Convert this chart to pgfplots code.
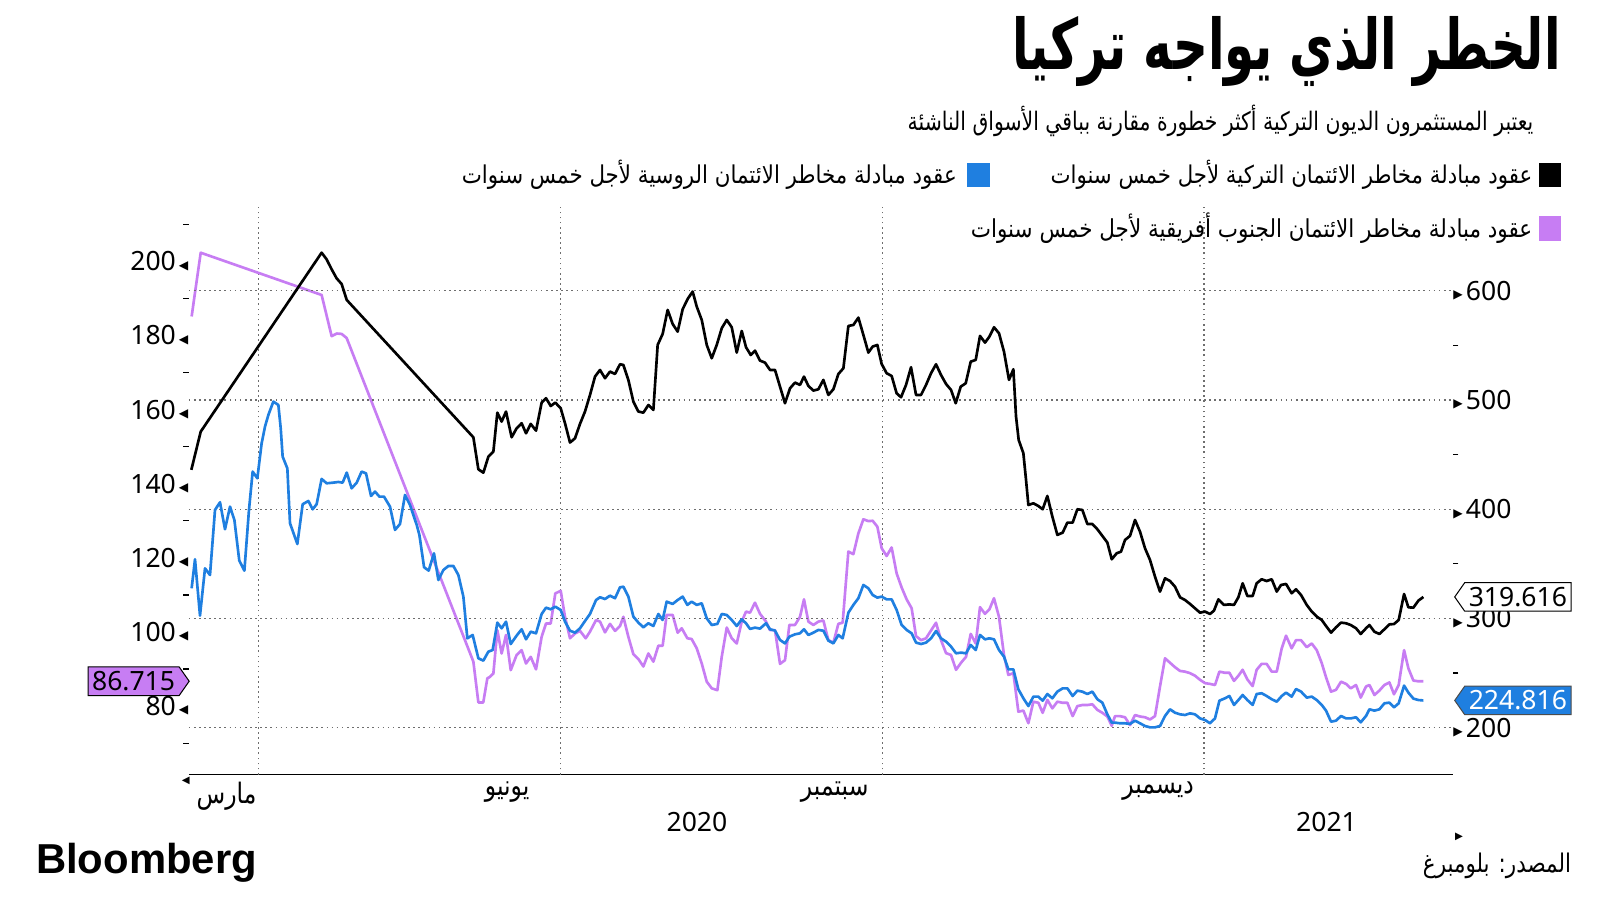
\documentclass[border=0pt]{standalone}
\usepackage{pgfplots}
\usepackage{pgfplotstable}
\pgfplotsset{compat=1.18}
\usepackage{fontspec}
\usepackage{graphicx}
\usetikzlibrary{shapes.symbols}
\TeXXeTstate=1
\setmainfont{Noto Sans}
\newfontfamily\arabicfont[Script=Arabic]{DejaVu Sans}
\newfontfamily\symfont{DejaVu Sans}
\newfontfamily\logofont{Liberation Sans}
\definecolor{cblue}{HTML}{1F7FE0}
\definecolor{cpurple}{HTML}{C77DF3}
\definecolor{cgrid}{HTML}{6E6E6E}
\newcommand{\ar}[1]{{\arabicfont\beginR #1\endR}}
\newcommand{\art}[1]{\scalebox{1}[1.2]{\ar{#1}}}

% South Africa (left axis)
\pgfplotstableread{
x y
187.8 185.1
196.7 202.3
315.2 190.9
325.0 179.8
330.0 180.5
334.8 180.4
339.7 179.3
463.9 92.0
468.8 81.0
473.6 81.0
477.6 87.5
480.2 87.9
483.5 88.8
487.4 100.5
491.6 94.2
495.9 99.2
500.5 89.7
506.3 93.8
511.2 95.1
515.5 91.5
520.1 93.3
525.3 89.9
530.8 98.7
535.1 102.3
539.7 102.3
544.2 110.4
549.5 111.1
553.7 104.1
558.6 98.3
563.5 99.6
568.4 100.3
574.0 98.3
578.2 100.1
584.1 103.2
588.0 102.8
592.9 99.9
597.8 102.2
602.7 100.3
607.6 101.6
610.9 104.1
615.8 98.7
620.7 94.0
625.6 92.7
630.5 90.7
635.4 94.2
640.3 92.0
645.2 96.3
649.4 96.3
653.3 104.6
659.2 104.6
664.1 99.8
668.1 101.0
673.6 98.3
677.8 98.1
682.8 95.6
687.7 91.5
692.6 86.6
697.5 84.8
703.0 84.3
707.3 93.3
712.2 101.2
717.1 98.3
722.0 96.9
726.9 102.8
731.1 105.5
735.0 105.2
739.9 107.9
744.8 104.9
750.7 102.8
754.6 100.5
759.5 100.5
764.4 91.4
769.3 92.4
773.6 101.9
779.1 101.9
784.0 104.1
787.9 108.8
792.2 102.8
797.1 101.9
802.0 102.8
806.9 103.1
811.8 97.8
816.7 97.1
821.6 102.2
825.8 102.5
831.4 121.7
836.3 121.0
841.2 126.6
846.1 130.4
851.0 129.9
855.2 130.0
859.8 128.4
864.0 122.6
868.9 120.5
873.8 122.8
878.7 115.8
883.6 112.0
888.5 108.8
893.4 106.4
897.7 98.9
902.6 97.8
907.5 98.3
912.4 100.4
917.3 102.5
922.2 97.8
927.1 94.3
932.0 93.8
936.9 89.8
941.8 91.7
946.7 93.3
951.3 99.5
956.2 96.9
960.4 106.7
965.3 104.9
969.6 106.1
974.1 109.1
979.0 104.1
983.9 93.8
988.2 88.4
993.1 88.9
998.0 78.5
1002.9 78.8
1007.8 75.4
1012.7 81.2
1017.6 80.9
1021.8 78.2
1026.4 81.7
1031.3 79.4
1036.2 81.2
1041.4 80.9
1046.0 80.9
1051.2 77.3
1055.8 80.0
1060.7 80.3
1065.6 80.3
1070.5 80.5
1075.4 79.0
1080.3 78.2
1085.2 77.2
1089.5 74.7
1092.7 77.3
1097.6 77.3
1102.5 77.0
1107.4 74.9
1112.3 77.6
1117.2 77.2
1122.1 77.0
1127.0 76.4
1131.9 77.3
1136.8 85.3
1141.7 92.9
1146.6 91.7
1151.5 90.5
1156.4 89.5
1161.3 89.3
1166.2 88.9
1171.1 88.2
1176.0 87.1
1180.9 86.2
1185.8 86.0
1190.7 85.7
1195.0 89.3
1200.5 89.0
1204.8 89.0
1209.3 86.8
1213.6 88.2
1217.8 89.8
1222.4 87.2
1227.6 85.4
1231.5 89.8
1236.4 91.4
1241.3 91.4
1246.3 89.3
1251.2 89.3
1256.1 95.6
1260.3 99.0
1265.8 95.6
1270.1 97.8
1275.0 97.8
1280.6 95.9
1285.5 96.9
1290.4 95.1
1295.3 91.6
1299.5 87.8
1304.4 83.9
1309.3 84.4
1314.2 86.6
1319.1 86.0
1323.7 84.8
1328.9 85.7
1333.5 82.3
1338.7 85.3
1342.0 85.7
1346.9 83.0
1351.8 84.2
1356.7 85.7
1361.6 86.4
1366.1 83.2
1370.7 85.7
1376.0 95.1
1380.2 90.2
1385.1 86.9
1390.0 86.7
1394.9 86.715
}\purpletab

% Russia (right axis)
\pgfplotstableread{
x y
187.8 327.5
191.1 354.1
196.0 302.5
200.9 345.8
205.8 339.7
210.7 399.3
215.6 406.3
220.5 381.6
225.4 402.3
229.7 390.1
234.5 352.9
239.5 343.7
244.0 399.3
247.6 434.4
252.2 428.3
256.4 460.3
259.7 475.6
263.0 486.3
267.9 498.5
272.8 495.4
275.1 474.1
277.0 448.1
281.6 437.4
284.2 387.1
291.4 368.1
296.6 404.5
302.2 407.5
306.4 399.9
310.3 404.5
315.2 427.7
320.1 423.7
326.7 424.3
331.6 424.9
335.8 424.3
339.8 433.5
344.6 419.1
349.6 424.3
354.4 434.4
358.7 432.8
363.6 412.1
367.5 416.1
371.8 411.5
376.3 411.5
382.2 402.3
387.1 381.0
392.0 386.4
396.9 413.0
401.8 403.8
408.4 385.5
411.0 376.4
415.6 346.8
420.1 343.7
425.3 359.6
429.6 335.1
434.5 344.3
439.4 348.0
444.3 348.0
449.2 339.7
454.1 319.9
458.0 281.7
463.2 284.8
468.8 263.4
473.7 261.3
478.6 269.5
482.8 271.0
487.4 296.1
491.6 290.9
495.9 297.0
500.5 276.5
506.3 284.2
511.2 290.0
515.5 280.8
520.1 287.8
525.3 286.3
530.8 304.0
535.1 309.8
539.7 308.3
544.2 310.7
549.5 307.7
553.7 297.0
558.6 288.7
563.5 286.9
568.4 290.9
574.0 298.5
578.2 304.0
584.1 316.8
588.0 319.3
592.9 317.7
597.8 320.8
602.7 318.4
607.6 328.4
610.9 329.0
615.8 319.9
620.7 301.6
625.6 296.1
630.5 291.8
635.4 295.5
640.3 293.0
645.2 304.0
649.4 298.5
653.3 315.3
659.2 313.2
664.1 316.8
669.0 319.9
673.6 312.3
677.8 315.3
682.8 312.3
687.7 313.8
692.6 300.0
697.5 293.9
703.0 294.9
707.3 304.0
712.2 303.1
717.1 298.5
722.0 293.0
726.9 299.1
731.1 295.5
735.0 290.3
739.9 291.5
744.8 290.6
750.7 295.5
754.6 290.0
759.5 288.8
764.4 280.2
769.3 277.1
773.6 283.2
779.1 285.4
784.0 286.3
787.9 290.0
792.2 284.8
797.1 286.9
802.0 289.4
806.9 288.7
811.8 279.6
816.7 277.1
821.6 284.8
825.8 281.7
831.4 305.2
836.3 312.3
841.2 318.4
846.1 330.6
851.0 327.5
855.2 321.4
859.8 319.0
864.0 319.9
868.9 317.4
873.8 317.4
878.7 307.7
883.6 293.9
888.5 289.4
893.4 286.3
897.7 277.8
902.6 276.5
907.5 277.8
912.4 281.7
917.3 288.4
922.2 281.7
927.1 278.7
932.0 274.1
936.9 268.0
941.8 268.6
946.7 268.0
951.3 275.6
956.2 271.0
960.4 284.8
965.3 280.8
969.6 281.7
974.1 280.8
979.0 271.0
983.9 264.9
988.2 253.3
993.1 253.3
998.0 235.0
1002.9 226.8
1007.8 219.7
1012.7 228.3
1017.6 228.3
1021.8 224.6
1026.4 230.7
1031.3 226.8
1036.2 232.9
1041.4 235.9
1046.0 235.9
1051.2 228.9
1055.8 233.8
1060.7 232.9
1065.6 230.7
1070.5 232.9
1075.4 225.9
1080.3 222.8
1085.2 212.1
1089.5 204.5
1092.7 204.5
1097.6 203.9
1102.5 203.9
1107.4 203.3
1112.3 206.3
1117.2 203.9
1122.1 201.4
1127.0 200.2
1131.9 200.2
1136.8 201.4
1141.7 210.6
1146.6 216.7
1151.5 213.6
1156.4 212.1
1161.3 211.5
1166.2 213.0
1171.1 212.1
1176.0 208.4
1180.9 206.9
1185.8 203.9
1190.7 208.4
1195.0 224.6
1200.5 226.8
1204.8 228.9
1209.3 220.7
1213.6 225.2
1217.8 229.8
1222.4 225.2
1227.6 220.7
1231.5 230.7
1236.4 231.4
1241.3 228.9
1246.3 225.9
1251.2 223.7
1256.1 228.9
1260.3 232.0
1265.8 228.3
1270.1 235.3
1275.0 232.9
1280.6 227.4
1285.5 228.3
1290.4 225.2
1295.3 220.7
1299.5 215.5
1304.4 205.4
1309.3 206.3
1314.2 210.6
1319.1 208.4
1323.7 208.4
1328.9 209.4
1333.5 204.8
1338.7 210.6
1342.0 216.7
1346.9 215.5
1351.8 216.7
1356.7 222.2
1361.6 222.8
1366.1 218.5
1370.7 222.2
1376.0 238.4
1380.2 232.0
1385.1 226.5
1390.0 225.2
1394.9 224.816
}\bluetab

% Turkey (right axis)
\pgfplotstableread{
x y
187.5 436.0
196.7 471.0
315.2 634.9
320.1 628.8
325.0 619.7
329.9 611.4
334.8 606.2
339.8 591.6
463.9 465.8
468.8 436.5
473.7 433.4
478.6 448.1
483.5 452.7
487.4 488.4
491.6 480.2
495.9 489.4
501.4 465.8
506.3 474.1
511.2 478.7
515.5 469.5
520.1 478.1
525.3 471.9
530.8 497.6
535.1 501.6
539.7 494.5
544.2 497.6
549.5 492.4
553.7 478.7
558.6 461.0
563.5 464.9
568.4 478.1
573.3 489.4
578.2 504.6
583.1 521.4
588.0 527.5
592.9 519.9
597.8 526.0
602.7 523.8
607.6 532.7
610.9 532.1
615.8 518.3
620.7 498.5
625.6 489.4
630.5 488.4
635.4 495.4
640.3 490.9
644.5 550.4
649.4 560.5
654.3 582.5
659.2 569.6
664.1 562.6
669.0 583.1
673.9 592.5
678.8 599.3
682.8 585.5
687.7 573.3
692.6 550.4
697.5 538.2
702.4 550.4
707.3 565.7
712.2 573.3
717.1 566.6
722.0 543.4
726.9 563.2
731.1 548.3
735.7 541.2
739.9 545.2
744.8 536.1
749.7 534.2
754.6 527.5
759.5 527.5
764.4 512.2
769.3 497.0
774.2 510.7
779.1 515.9
784.0 513.8
787.9 521.4
792.2 512.9
797.1 508.6
802.0 509.8
806.9 518.4
811.8 504.6
816.7 509.8
821.6 523.8
826.5 529.0
831.4 567.8
836.3 568.7
841.2 575.4
846.1 559.6
851.0 543.4
855.2 548.9
859.8 550.4
864.0 533.0
868.9 524.5
873.8 522.0
878.7 506.1
883.0 502.5
887.9 513.8
892.8 530.0
897.7 504.6
902.6 504.6
907.5 513.8
912.4 524.5
917.3 532.7
922.2 522.9
927.1 514.7
932.0 509.2
936.6 497.0
941.5 512.2
946.4 515.3
951.3 535.1
956.2 536.7
960.4 558.7
965.3 552.5
969.6 558.0
974.1 566.6
979.0 561.1
983.9 544.3
988.8 518.4
993.1 528.1
995.7 484.8
998.3 463.4
1002.9 451.2
1005.5 426.8
1007.8 403.8
1012.7 405.4
1017.6 402.9
1021.8 399.9
1026.4 412.1
1031.3 393.2
1036.2 376.4
1041.4 378.5
1046.0 387.7
1051.2 387.7
1055.8 399.9
1060.7 399.3
1065.6 386.4
1070.5 386.4
1075.4 381.6
1080.3 375.5
1085.2 369.4
1089.5 354.1
1094.3 359.6
1098.6 361.1
1102.5 371.8
1107.4 375.5
1112.3 390.1
1117.2 379.4
1122.1 364.2
1127.0 353.5
1131.9 338.2
1136.8 324.5
1141.7 336.7
1146.6 334.2
1151.5 329.0
1156.4 319.3
1161.3 316.8
1166.2 313.2
1171.1 309.2
1176.0 305.2
1180.9 306.2
1185.8 304.0
1189.7 307.1
1194.0 317.4
1199.5 312.3
1204.8 312.8
1209.3 312.3
1213.6 319.3
1217.8 332.1
1222.4 320.5
1227.6 320.5
1231.5 332.1
1236.4 335.8
1241.3 334.2
1246.3 335.8
1251.2 324.5
1255.4 330.6
1260.3 331.5
1265.8 323.0
1270.1 326.6
1275.0 321.4
1280.6 312.3
1285.5 306.2
1290.4 301.6
1295.3 298.5
1299.5 293.0
1304.4 286.9
1309.3 291.8
1314.2 296.1
1319.1 295.5
1323.7 293.9
1328.9 290.9
1333.5 285.7
1338.7 290.9
1342.0 293.9
1346.9 287.8
1351.8 285.7
1356.7 290.0
1361.6 294.5
1366.1 294.8
1370.7 298.5
1376.0 322.3
1380.2 310.1
1385.1 309.8
1390.0 316.2
1394.9 319.616
}\blacktab

\pgfplotsset{
  common/.style={
    at={(92.5bp,-379.5bp)}, anchor=south west,
    scale only axis, width=619.5bp, height=278bp,
    xmin=185, xmax=1424,
    major tick length=0pt, minor tick length=2.6bp, tick align=outside,
    minor tick style={line width=0.6bp, black},
    major grid style={cgrid, line width=0.6bp, dash pattern=on 0.8bp off 1.7bp},
    /pgf/number format/assume math mode=true,
    /pgf/number format/1000 sep={},
    yticklabel style={font=\fontsize{13bp}{13bp}\selectfont, inner sep=0pt},
    clip=false,
  }
}

\begin{document}
\begin{tikzpicture}
\useasboundingbox (0,0) rectangle (784bp,-441bp);
\begin{scope}[x=0.5bp,y=-0.5bp]
  % title and subtitle
  \node[anchor=east, inner sep=0] at (1530,50) {\resizebox{268.5bp}{26bp}{\arabicfont\bfseries\beginR الخطر الذي يواجه تركيا\endR}};
  \node[anchor=east, inner sep=0] at (1503,118) {\scalebox{1}[1.25]{\resizebox{306.5bp}{!}{\ar{يعتبر المستثمرون الديون التركية أكثر خطورة مقارنة بباقي الأسواق الناشئة}}}};
  % legend
  \fill[black] (1508,160) rectangle (1530,183);
  \node[anchor=east, inner sep=0] at (1502,171) {\scalebox{1}[1.15]{\resizebox{236bp}{!}{\ar{عقود مبادلة مخاطر الائتمان التركية لأجل خمس سنوات}}}};
  \fill[cblue] (948,160) rectangle (970,183);
  \node[anchor=east, inner sep=0] at (938,171) {\scalebox{1}[1.15]{\resizebox{242.5bp}{!}{\ar{عقود مبادلة مخاطر الائتمان الروسية لأجل خمس سنوات}}}};
  \fill[cpurple] (1508,212) rectangle (1530,236);
  \node[anchor=east, inner sep=0] at (1502,224) {\scalebox{1}[1.15]{\resizebox{275bp}{!}{\ar{عقود مبادلة مخاطر الائتمان الجنوب أفريقية لأجل خمس سنوات}}}};
  % years
  \node[font=\fontsize{13bp}{13bp}\selectfont] at (683,806) {2020};
  \node[font=\fontsize{13bp}{13bp}\selectfont] at (1300,806) {2021};
  % footer
  \node[anchor=west, inner sep=0] at (35,846) {\logofont\bfseries\fontsize{20.5bp}{20.5bp}\selectfont Bloomberg};
  \node[anchor=east, inner sep=0] at (1540,849) {\fontsize{10.5bp}{12bp}\selectfont\art{المصدر: بلومبرغ}};
  % corner arrow marks
  \node[inner sep=0] at (182,765) {\symfont\fontsize{5bp}{5bp}\selectfont ◀};
  \node[inner sep=0] at (1430,820) {\symfont\fontsize{5bp}{5bp}\selectfont ▶};
\end{scope}

% left axis: South Africa
\begin{axis}[common,
  ymin=61.56, ymax=214.59,
  axis x line*=bottom, axis y line*=left,
  x axis line style={line width=0.9bp, -},
  y axis line style={draw=none},
  xtick={222,497,818,1135},
  xticklabels={\art{مارس},\art{يونيو},\art{سبتمبر},\art{ديسمبر}},
  xticklabel style={font=\fontsize{11.5bp}{13bp}\selectfont, inner sep=0pt, yshift=-3.5bp},
  extra x ticks={253,549,865,1180},
  extra x tick labels={},
  extra x tick style={grid=major, major tick length=0pt},
  ytick={80,100,...,200},
  minor ytick={70,90,...,210},
  yticklabel={\pgfmathprintnumber{\tick}\kern1.5bp\raisebox{0.8bp}{\symfont\fontsize{6bp}{6bp}\selectfont ◀}},
  yticklabel style={anchor=east},
]
\addplot[cpurple, line width=1.3bp, line join=round] table[x=x,y=y]{\purpletab};
\node[signal, signal to=east, signal pointer angle=110, fill=cpurple, draw=black, line width=0.5bp,
      inner xsep=2bp, inner ysep=1bp, minimum height=14bp, anchor=east,
      font=\fontsize{13bp}{13bp}\selectfont] at (axis cs:186,86.715) {86.715};
\end{axis}

% right axis: Turkey and Russia
\begin{axis}[common,
  ymin=157.0, ymax=676.6,
  axis x line=none, axis y line*=right,
  y axis line style={draw=none},
  xtick=\empty,
  ytick={200,300,...,600},
  minor ytick={250,350,450,550},
  ymajorgrids,
  yticklabel={\raisebox{0.8bp}{\symfont\fontsize{6bp}{6bp}\selectfont ▶}\kern1.5bp\pgfmathprintnumber{\tick}},
  yticklabel style={anchor=west},
]
\addplot[cblue, line width=1.3bp, line join=round] table[x=x,y=y]{\bluetab};
\addplot[black, line width=1.3bp, line join=round] table[x=x,y=y]{\blacktab};
\node[signal, signal to=west, signal pointer angle=110, fill=white, draw=black, line width=0.5bp,
      inner xsep=2bp, inner ysep=1bp, minimum height=14bp, anchor=west,
      font=\fontsize{13bp}{13bp}\selectfont] at (axis cs:1425,319.616) {319.616};
\node[signal, signal to=west, signal pointer angle=110, fill=cblue, draw=black!70, text=white, line width=0.5bp,
      inner xsep=2bp, inner ysep=1bp, minimum height=14bp, anchor=west,
      font=\fontsize{13bp}{13bp}\selectfont] at (axis cs:1425,224.816) {224.816};
\end{axis}
\end{tikzpicture}
\end{document}
